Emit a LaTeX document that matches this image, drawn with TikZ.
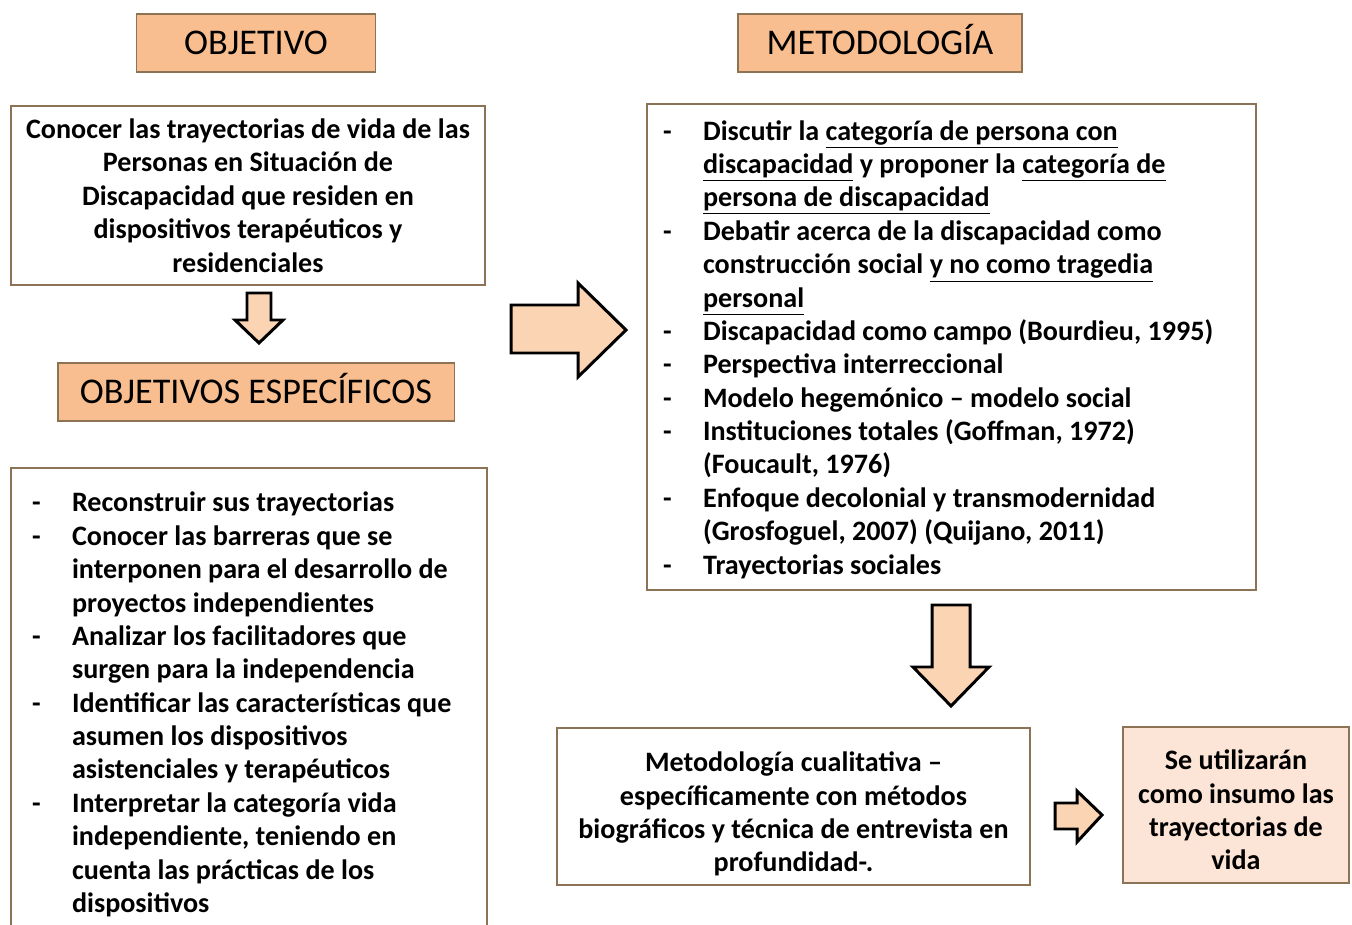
\documentclass[tikz,border=0pt]{standalone}
\usepackage{fontspec}
\setmainfont{Carlito}
\definecolor{headfill}{RGB}{248,190,144}
\definecolor{boxline}{RGB}{140,115,85}
\definecolor{arrowfill}{RGB}{251,212,180}
\definecolor{lastfill}{RGB}{252,228,214}
\newcommand{\guion}{\makebox[0.8cm][l]{-}}
\newcommand{\sangria}{\hspace*{0.8cm}}

\begin{document}
\begin{tikzpicture}[x=0.02cm,y=-0.02cm,
        header/.style={draw=boxline,fill=headfill,line width=1.1pt,inner sep=0pt,
            minimum height=1.16cm,text height=16pt,text depth=3pt,
            font=\fontsize{20.6}{24}\selectfont},
        textbox/.style={draw=boxline,line width=1.1pt,inner sep=0pt,
            font=\fontsize{16}{19}\selectfont\bfseries},
        blockarrow/.style={draw=black,fill=arrowfill,line width=1.7pt,line join=miter}
    ]
        \useasboundingbox (0,0) rectangle (1352,925);

        % Define the headers
        \node[header,minimum width=4.78cm] (objetivo) at (256,43) {OBJETIVO};
        \node[header,minimum width=5.68cm] (metodologia) at (880,43) {METODOLOGÍA};
        \node[header,minimum width=7.94cm] (especificos) at (256,392) {OBJETIVOS ESPECÍFICOS};

        % Define the text boxes
        \node[textbox,align=center,minimum width=9.48cm,minimum height=3.58cm] (general) at (248,195.5)
            {Conocer las trayectorias de vida de las\\ Personas en Situación de\\ Discapacidad que residen en\\ dispositivos terapéuticos y\\ residenciales};
        \node[textbox,align=flush left,text width=8.68cm,inner xsep=0.42cm,minimum height=9.46cm] (lista) at (249,704.5)
            {\guion Reconstruir sus trayectorias\\
             \guion Conocer las barreras que se\\
             \sangria interponen para el desarrollo de\\
             \sangria proyectos independientes\\
             \guion Analizar los facilitadores que\\
             \sangria surgen para la independencia\\
             \guion Identificar las características que\\
             \sangria asumen los dispositivos\\
             \sangria asistenciales y terapéuticos\\
             \guion Interpretar la categoría vida\\
             \sangria independiente, teniendo en\\
             \sangria cuenta las prácticas de los\\
             \sangria dispositivos};
        \node[textbox,align=flush left,text width=11.54cm,inner xsep=0.32cm,minimum height=9.72cm] (enfoques) at (951.5,347)
            {\rule{0pt}{14pt}\guion Discutir la \underline{categoría de persona con}\\
             \sangria\underline{discapacidad} y proponer la \underline{categoría de}\\
             \sangria\underline{persona de discapacidad}\\
             \guion Debatir acerca de la discapacidad como\\
             \sangria construcción social \underline{y no como tragedia}\\
             \sangria\underline{personal}\\
             \guion Discapacidad como campo (Bourdieu, 1995)\\
             \guion Perspectiva interreccional\\
             \guion Modelo hegemónico – modelo social\\
             \guion Instituciones totales (Goffman, 1972)\\
             \sangria (Foucault, 1976)\\
             \guion Enfoque decolonial y transmodernidad\\
             \sangria (Grosfoguel, 2007) (Quijano, 2011)\\
             \guion Trayectorias sociales};
        \node[textbox,align=center,minimum width=9.46cm,minimum height=3.14cm] (cualitativa) at (793.5,806.5)
            {\rule{0pt}{20pt}Metodología cualitativa –\\ específicamente con métodos\\ biográficos y técnica de entrevista en\\ profundidad-.};
        \node[textbox,fill=lastfill,align=center,minimum width=4.52cm,minimum height=3.12cm] (insumo) at (1236,805)
            {\rule{0pt}{17pt}Se utilizarán\\ como insumo las\\ trayectorias de\\ vida};

        % Block arrows between the boxes
        \coordinate (flechaA) at (259,293);
        \draw[blockarrow] (flechaA) +(-12,0) -- +(12,0) -- +(12,27) -- +(24,27) -- +(0,50)
            -- +(-24,27) -- +(-12,27) -- cycle;
        \coordinate (flechaB) at (511,329);
        \draw[blockarrow] (flechaB) +(0,-24) -- +(67,-24) -- +(67,-46) -- +(115,1) -- +(67,48)
            -- +(67,24) -- +(0,24) -- cycle;
        \coordinate (flechaC) at (951,605);
        \draw[blockarrow] (flechaC) +(-19,0) -- +(19,0) -- +(19,62) -- +(38,62) -- +(0,101)
            -- +(-38,62) -- +(-19,62) -- cycle;
        \coordinate (flechaD) at (1055,816);
        \draw[blockarrow] (flechaD) +(0,-13) -- +(22,-13) -- +(22,-25) -- +(47,-1) -- +(22,26)
            -- +(22,13) -- +(0,13) -- cycle;
    \end{tikzpicture}
\end{document}
